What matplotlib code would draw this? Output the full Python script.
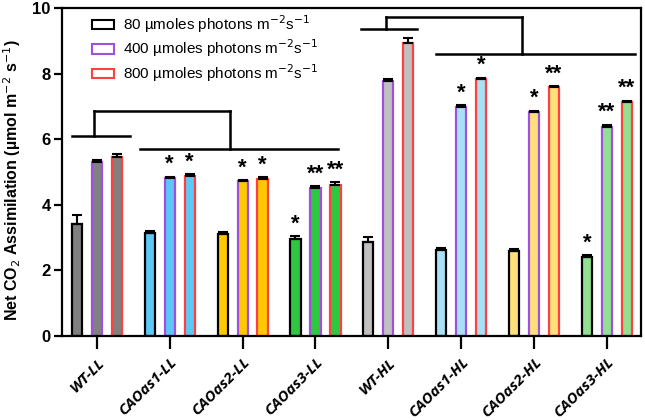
import matplotlib
matplotlib.use("Agg")
import matplotlib.pyplot as plt
from matplotlib.patches import Patch
from matplotlib import font_manager
import numpy as np

plt.rcParams['font.family'] = ['Liberation Sans', 'DejaVu Sans']

groups = ["WT-LL", "CAOas1-LL", "CAOas2-LL", "CAOas3-LL",
          "WT-HL", "CAOas1-HL", "CAOas2-HL", "CAOas3-HL"]
series_names = ["80 µmoles photons m$^{-2}$s$^{-1}$",
                "400 µmoles photons m$^{-2}$s$^{-1}$",
                "800 µmoles photons m$^{-2}$s$^{-1}$"]
v80 = [3.40, 3.15, 3.12, 2.96, 2.86, 2.62, 2.59, 2.42]
v400 = [5.31, 4.82, 4.72, 4.50, 7.77, 6.99, 6.83, 6.38]
v800 = [5.47, 4.89, 4.80, 4.60, 8.94, 7.84, 7.58, 7.14]
e80 = [0.29, 0.05, 0.04, 0.08, 0.15, 0.06, 0.06, 0.05]
e400 = [0.07, 0.04, 0.04, 0.07, 0.05, 0.05, 0.04, 0.06]
e800 = [0.07, 0.05, 0.05, 0.08, 0.15, 0.04, 0.04, 0.03]
sig80 = ["", "", "", "*", "", "", "", "*"]
sig400 = ["", "*", "*", "**", "", "*", "*", "**"]
sig800 = ["", "*", "*", "**", "", "*", "**", "**"]

fill_colors = ["#808080", "#5BC8F5", "#FFC800", "#2DC840",
               "#C0C0C0", "#A8E0F5", "#FFE07A", "#90E090"]
edge_colors = ["#000000", "#A050E0", "#FF4040"]

# pick a font with single-storey italic 'a' if available
xfont = 'Liberation Sans'
for f in font_manager.fontManager.ttflist:
    if f.name == 'Open Sans' and f.style == 'italic':
        xfont = 'Open Sans'
        break

fig = plt.figure(figsize=(6.45, 4.2), dpi=100)
ax = fig.add_axes([0.096, 0.2, 0.898, 0.781])

x = np.arange(len(groups))
off = 0.274
w = 0.14
vals = [v80, v400, v800]
errs = [e80, e400, e800]
sigs = [sig80, sig400, sig800]
for k in range(3):
    xs = x + (k - 1) * off
    ax.bar(xs, vals[k], width=w, color=fill_colors, edgecolor=edge_colors[k],
           linewidth=1.6, zorder=2)
    ax.errorbar(xs, vals[k], yerr=[np.zeros(len(groups)), errs[k]], fmt='none',
                ecolor='black', elinewidth=1.5, capsize=3.5, capthick=1.5, zorder=3)
    for i in range(len(groups)):
        if sigs[k][i]:
            ax.text(xs[i], vals[k][i] + errs[k][i] + 0.05, sigs[k][i],
                    ha='center', va='bottom', fontsize=16, fontweight='bold')

# significance brackets (LL)
lw = 1.8
ax.plot([-0.34, 0.45], [6.11, 6.11], color='black', lw=lw, clip_on=False)
ax.plot([-0.04, -0.04], [6.11, 6.87], color='black', lw=lw)
ax.plot([-0.04, 1.83], [6.87, 6.87], color='black', lw=lw)
ax.plot([1.83, 1.83], [6.87, 5.70], color='black', lw=lw)
ax.plot([0.59, 3.31], [5.70, 5.70], color='black', lw=lw)
# HL
ax.plot([3.62, 4.40], [9.36, 9.36], color='black', lw=lw)
ax.plot([3.97, 3.97], [9.36, 9.74], color='black', lw=lw)
ax.plot([3.97, 5.83], [9.74, 9.74], color='black', lw=lw)
ax.plot([5.83, 5.83], [9.74, 8.60], color='black', lw=lw)
ax.plot([4.66, 7.39], [8.60, 8.60], color='black', lw=lw)

ax.set_xlim(-0.48, 7.47)
ax.set_ylim(0, 10)
ax.set_yticks([0, 2, 4, 6, 8, 10])
ax.set_xticks(x)
ax.set_xticklabels(groups, rotation=45, ha='right', rotation_mode='anchor',
                   fontweight='bold', fontstyle='italic', fontsize=11,
                   family=[xfont, 'DejaVu Sans'])
for lab in ax.get_yticklabels():
    lab.set_fontweight('bold')
    lab.set_fontsize(12)
for s in ax.spines.values():
    s.set_linewidth(1.6)
ax.tick_params(axis='y', length=6, width=1.6, pad=2)
ax.tick_params(axis='x', length=9, width=1.6, pad=5)
ax.set_ylabel("Net CO$_2$ Assimilation (µmol m$^{-2}$ s$^{-1}$)",
              fontsize=11.5, fontweight='bold')
ax.yaxis.set_label_coords(-0.067, 0.476)

handles = [Patch(facecolor='white', edgecolor=c, linewidth=1.5) for c in edge_colors]
leg = ax.legend(handles, series_names, loc='upper left', bbox_to_anchor=(0.052, 0.985),
                frameon=False, fontsize=11, handlelength=1.45, handleheight=0.55,
                labelspacing=0.2, handletextpad=0.6, borderaxespad=0, borderpad=0)

fig.savefig("out.png", dpi=100)
